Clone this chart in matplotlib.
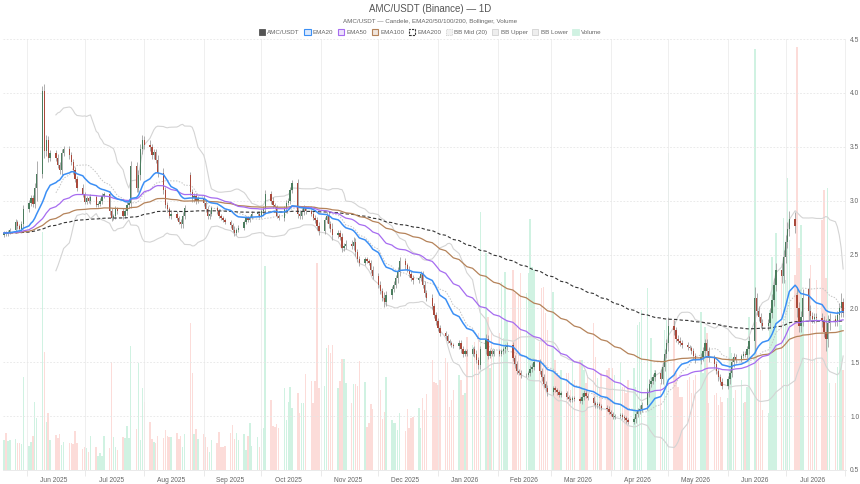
import numpy as np
import pandas as pd
import matplotlib
matplotlib.use("Agg")
import matplotlib.pyplot as plt
import matplotlib.dates as mdates
from matplotlib.patches import Patch

plt.rcParams['font.family'] = ['Liberation Sans', 'DejaVu Sans']

# daily closes, one row per trading week (first week starts on Tue 2025-05-20)
closes = [
    2.70, 2.69, 2.71, 2.73,
    2.80, 2.76, 2.74, 2.78, 2.92,
    2.98, 3.02, 2.97, 3.12, 3.25,
    4.02, 3.46, 3.56, 3.40, 3.44,
    3.40, 3.33, 3.28, 3.44, 3.48,
    3.42, 3.36, 3.28, 3.20, 3.12,
    3.06, 2.99, 3.02, 3.00, 3.03,
    2.96, 2.97, 3.00, 3.04, 3.06,
    2.90, 2.84, 2.86, 2.92, 2.90,
    2.86, 2.90, 2.96, 2.98, 3.32,
    3.12, 3.24, 3.48, 3.56, 3.52,
    3.50, 3.42, 3.45, 3.38, 3.26,
    3.10, 2.96, 2.92, 2.86, 2.88,
    2.84, 2.80, 2.78, 2.86, 2.93,
    3.08, 3.02, 3.04, 3.00, 3.02,
    2.98, 2.92, 2.86, 2.88, 2.93,
    2.90, 2.86, 2.84, 2.82, 2.80,
    2.77, 2.73, 2.70, 2.73, 2.75,
    2.80, 2.84, 2.82, 2.85, 2.88,
    2.88, 2.86, 2.90, 2.92, 3.06,
    3.00, 2.96, 2.94, 2.86, 2.84,
    2.92, 2.98, 3.00, 3.10, 3.16,
    2.88, 2.86, 2.90, 2.93, 2.90,
    2.88, 2.84, 2.82, 2.76, 2.72,
    2.82, 2.86, 2.78, 2.74, 2.68,
    2.70, 2.66, 2.56, 2.58, 2.60,
    2.58, 2.62, 2.52, 2.46, 2.42,
    2.46, 2.44, 2.42, 2.36, 2.30,
    2.22, 2.16, 2.10, 2.06, 2.12,
    2.18, 2.22, 2.28, 2.34, 2.44,
    2.40, 2.36, 2.32, 2.28, 2.26,
    2.28, 2.32, 2.22, 2.14, 2.10,
    2.02, 1.94, 1.88, 1.82, 1.77,
    1.74, 1.70, 1.68, 1.66, 1.65,
    1.68, 1.62, 1.58, 1.60, 1.58,
    1.62, 1.58, 1.52, 1.47, 1.62,
    1.72, 1.56, 1.60, 1.58, 1.60,
    1.58, 1.60, 1.62, 1.64, 1.66,
    1.54, 1.48, 1.42, 1.40, 1.38,
    1.38, 1.40, 1.44, 1.46, 1.50,
    1.42, 1.36, 1.30, 1.26, 1.22,
    1.26, 1.24, 1.22, 1.20, 1.21,
    1.18, 1.16, 1.15, 1.17, 1.16,
    1.14, 1.18, 1.21, 1.19, 1.17,
    1.12, 1.10, 1.11, 1.09, 1.08,
    1.07, 1.04, 1.02, 0.99, 1.00,
    1.01, 0.99, 0.98, 0.96, 0.95,
    0.97, 1.02, 1.05, 1.07, 1.10,
    1.22, 1.30, 1.33, 1.36, 1.40,
    1.34, 1.46, 1.58, 1.68, 1.84,
    1.80, 1.72, 1.70, 1.68, 1.66,
    1.64, 1.63, 1.60, 1.56, 1.52,
    1.55, 1.60, 1.68, 1.60, 1.54,
    1.48, 1.42, 1.36, 1.32, 1.28,
    1.34, 1.40, 1.50, 1.55, 1.52,
    1.56, 1.58, 1.57, 1.62, 1.70,
    2.10, 1.98, 1.92, 1.86, 1.84,
    1.86, 1.96, 2.08, 2.22, 2.36,
    2.30, 2.48, 2.62, 2.74, 2.83,
    2.76, 2.00, 1.84, 1.92, 2.10,
    1.98, 1.93, 1.90, 1.92, 1.91,
    1.88, 1.78, 1.72, 1.86, 1.90,
    1.88, 1.94, 2.00, 2.06, 1.96,
]

# wick length beyond the body, in cents
wicks = [
    2, 2, 2, 2,
    3, 2, 2, 3, 4,
    3, 3, 3, 4, 12,
    4, 6, 5, 4, 3,
    3, 3, 3, 4, 3,
    3, 3, 3, 3, 3,
    3, 2, 2, 2, 3,
    2, 2, 2, 3, 2,
    3, 3, 2, 3, 2,
    3, 2, 3, 3, 5,
    4, 4, 5, 5, 4,
    4, 3, 3, 3, 4,
    4, 3, 3, 2, 3,
    2, 2, 3, 3, 3,
    3, 3, 3, 3, 2,
    3, 3, 3, 3, 2,
    2, 2, 2, 2, 2,
    2, 2, 3, 2, 2,
    2, 2, 2, 2, 2,
    2, 2, 2, 3, 4,
    3, 3, 2, 2, 2,
    3, 3, 2, 3, 3,
    4, 3, 3, 3, 2,
    2, 2, 3, 3, 4,
    3, 3, 3, 3, 5,
    3, 3, 4, 3, 3,
    3, 4, 3, 3, 3,
    2, 2, 2, 3, 3,
    3, 3, 3, 5, 4,
    3, 3, 3, 4, 4,
    3, 2, 3, 3, 3,
    2, 3, 3, 3, 3,
    3, 3, 3, 3, 3,
    2, 2, 2, 2, 2,
    3, 3, 3, 2, 2,
    2, 3, 3, 3, 3,
    4, 3, 2, 2, 2,
    2, 2, 2, 3, 3,
    3, 3, 3, 2, 3,
    2, 2, 3, 3, 3,
    3, 3, 3, 3, 3,
    2, 2, 2, 2, 2,
    2, 2, 2, 2, 2,
    2, 3, 3, 2, 2,
    2, 2, 2, 2, 2,
    2, 2, 2, 2, 2,
    2, 2, 2, 2, 2,
    2, 3, 3, 3, 3,
    4, 4, 3, 3, 3,
    4, 4, 4, 4, 8,
    5, 3, 3, 3, 3,
    3, 2, 2, 3, 3,
    4, 4, 4, 4, 4,
    3, 3, 3, 3, 3,
    3, 4, 4, 4, 3,
    2, 2, 2, 3, 4,
    10, 4, 4, 4, 4,
    4, 4, 5, 6, 6,
    6, 6, 6, 6, 7,
    6, 8, 6, 6, 8,
    10, 5, 4, 4, 4,
    5, 5, 12, 8, 6,
    4, 4, 5, 8, 4,
]

# volume, thousands
volumes = [
    30, 37, 29, 30,
    31, 27, 27, 26, 93,
    24, 28, 34, 68, 52,
    238, 118, 48, 57, 30,
    35, 32, 36, 25, 28,
    27, 27, 26, 39, 27,
    21, 23, 22, 18, 34,
    23, 14, 17, 14, 34,
    22, 108, 33, 23, 20,
    33, 32, 44, 32, 124,
    41, 107, 30, 82, 68,
    48, 31, 28, 27, 34,
    32, 40, 34, 33, 33,
    37, 31, 34, 23, 36,
    147, 97, 36, 41, 31,
    36, 33, 23, 18, 30,
    27, 38, 23, 23, 24,
    37, 45, 31, 37, 30,
    36, 20, 34, 47, 24,
    33, 23, 41, 42, 204,
    70, 44, 43, 46, 42,
    82, 50, 68, 83, 62,
    77, 57, 67, 67, 96,
    89, 67, 89, 207, 82,
    84, 122, 125, 117, 125,
    82, 89, 111, 111, 87,
    67, 86, 86, 84, 109,
    88, 43, 47, 66, 61,
    109, 80, 51, 58, 93,
    50, 47, 47, 40, 57,
    39, 61, 42, 52, 53,
    62, 42, 72, 60, 76,
    110, 88, 87, 85, 90,
    112, 108, 63, 70, 80,
    95, 90, 75, 77, 133,
    125, 128, 110, 137, 258,
    217, 153, 102, 137, 122,
    137, 188, 132, 198, 150,
    200, 177, 143, 175, 197,
    177, 197, 251, 203, 200,
    128, 182, 183, 157, 140,
    178, 110, 97, 93, 100,
    97, 97, 80, 110, 90,
    110, 110, 100, 87, 95,
    147, 113, 92, 83, 97,
    100, 102, 90, 102, 95,
    108, 83, 83, 77, 90,
    102, 83, 145, 148, 160,
    182, 80, 132, 93, 100,
    87, 60, 140, 150, 317,
    150, 97, 83, 73, 73,
    90, 93, 77, 90, 95,
    158, 97, 143, 137, 67,
    75, 77, 65, 73, 68,
    72, 123, 117, 72, 80,
    90, 67, 68, 83, 153,
    420, 148, 112, 100, 60,
    57, 160, 213, 170, 237,
    197, 252, 190, 292, 230,
    195, 422, 222, 245, 150,
    180, 205, 145, 110, 190,
    250, 280, 192, 282, 87,
    87, 103, 163, 145, 100,
]

first_open = 2.68
# days that opened away from the previous close
gap_opens = {
    "2025-08-25": 3.24,
    "2026-07-07": 2.12,
    "2026-07-13": 2.18,
}

dates = pd.bdate_range("2025-05-20", "2026-07-31")
df = pd.DataFrame({"close": closes, "wick": wicks, "volume": volumes}, index=dates)
df["open"] = df["close"].shift(1).fillna(first_open)
for d, v in gap_opens.items():
    df.loc[d, "open"] = v
df["high"] = df[["open", "close"]].max(axis=1) + df["wick"] / 100
df["low"] = df[["open", "close"]].min(axis=1) - df["wick"] / 100

for n in (20, 50, 100, 200):
    df[f"ema{n}"] = df["close"].ewm(span=n, adjust=False).mean()
mid = df["close"].rolling(20).mean()
sd = df["close"].rolling(20).std(ddof=0)
df["bb_mid"] = mid
df["bb_up"] = mid + 2 * sd
df["bb_lo"] = mid - 2 * sd

x = mdates.date2num(df.index)
up = (df["close"] >= df["open"]).values

fig = plt.figure(figsize=(8.6, 4.84), dpi=100)
ax = fig.add_axes([3 / 860, 14 / 484, 843 / 860, 431 / 484])
axv = ax.twinx()
ax.set_zorder(axv.get_zorder() + 1)
ax.patch.set_visible(False)

# volume behind everything
vol_colors = np.where(up, "#d0f2e2", "#fcdcd9")
axv.bar(x, df["volume"], width=0.75, color=vol_colors, linewidth=0)
axv.set_ylim(0, df["volume"].max() * 1.02)
axv.set_yticks([])
for s in axv.spines.values():
    s.set_visible(False)

# candles
ax.vlines(x, df["low"], df["high"], color="#a0a0a0", lw=0.6, zorder=3)
body_lo = df[["open", "close"]].min(axis=1)
body_h = np.maximum((df["close"] - df["open"]).abs(), 0.006)
ax.bar(x, body_h, bottom=body_lo, width=0.7,
       color=np.where(up, "#4b7d5e", "#a9493b"), linewidth=0, zorder=4)

# indicators
ax.plot(x, df["bb_up"], color="#d4d4d4", lw=0.8, zorder=2)
ax.plot(x, df["bb_lo"], color="#d4d4d4", lw=0.8, zorder=2)
ax.plot(x, df["bb_mid"], color="#c4c4c4", lw=0.7, ls=(0, (1.5, 1.5)), zorder=2)
ax.plot(x, df["ema200"], color="#333333", lw=0.8, ls=(0, (3, 2)), zorder=5)
ax.plot(x, df["ema100"], color="#b5835a", lw=0.9, zorder=5)
ax.plot(x, df["ema50"], color="#a66cf0", lw=0.9, zorder=5)
ax.plot(x, df["ema20"], color="#3b8ff5", lw=1.1, zorder=6)

ax.set_xlim(x[0] - 0.55, x[-1] + 1.5)
ax.set_ylim(0.5, 4.5)

# price axis on the right
ax.yaxis.tick_right()
ax.set_yticks(np.arange(0.5, 4.51, 0.5))
ax.yaxis.set_major_formatter(matplotlib.ticker.FormatStrFormatter("%.1f"))
ax.tick_params(axis="y", length=0, labelsize=4.8, labelcolor="#666666", pad=3)
ax.grid(axis="y", color="#e6e6e6", lw=0.6, ls=(0, (2, 2)))

# month boundaries as grid, labels centred in each month
ax.xaxis.set_major_locator(mdates.MonthLocator())
ax.xaxis.set_major_formatter(matplotlib.ticker.NullFormatter())
ax.xaxis.set_minor_locator(mdates.MonthLocator(bymonthday=15))
ax.xaxis.set_minor_formatter(mdates.DateFormatter("%b %Y"))
ax.tick_params(axis="x", which="major", length=4, color="#e6e6e6", width=0.6)
ax.tick_params(axis="x", which="minor", length=0, labelsize=4.8,
               labelcolor="#666666", pad=5)
ax.grid(axis="x", which="major", color="#ececec", lw=0.6)

for name, s in ax.spines.items():
    s.set_visible(name == "bottom")
ax.spines["bottom"].set_color("#e6e6e6")
ax.spines["bottom"].set_linewidth(0.6)

fig.text(0.5, 1 - 9 / 484, "AMC/USDT (Binance) — 1D", ha="center", va="center",
         fontsize=7, color="#555555")
fig.text(0.5, 1 - 21.5 / 484, "AMC/USDT — Candele, EMA20/50/100/200, Bollinger, Volume",
         ha="center", va="center", fontsize=4.5, color="#666666")

handles = [
    Patch(facecolor="#555555", edgecolor="#555555", lw=0.6),
    Patch(facecolor="#dbe9fd", edgecolor="#3b8ff5", lw=0.8),
    Patch(facecolor="#ede2fc", edgecolor="#a66cf0", lw=0.8),
    Patch(facecolor="#f1e6dd", edgecolor="#b5835a", lw=0.8),
    Patch(facecolor="white", edgecolor="#333333", lw=0.8, ls=(0, (2, 1))),
    Patch(facecolor="#f2f2f2", edgecolor="#cccccc", lw=0.6, ls=(0, (1, 1))),
    Patch(facecolor="#eeeeee", edgecolor="#d2d2d2", lw=0.6),
    Patch(facecolor="#eeeeee", edgecolor="#d2d2d2", lw=0.6),
    Patch(facecolor="#d0f2e2", edgecolor="#d0f2e2", lw=0.6),
]
labels = ["AMC/USDT", "EMA20", "EMA50", "EMA100", "EMA200",
          "BB Mid (20)", "BB Upper", "BB Lower", "Volume"]
fig.legend(handles, labels, loc="center", bbox_to_anchor=(0.5, 1 - 32 / 484),
           ncol=9, frameon=False, fontsize=4.5, handlelength=1.0, handleheight=1.0,
           handletextpad=0.35, columnspacing=0.75, labelcolor="#666666")

fig.savefig("out.png", dpi=100)
